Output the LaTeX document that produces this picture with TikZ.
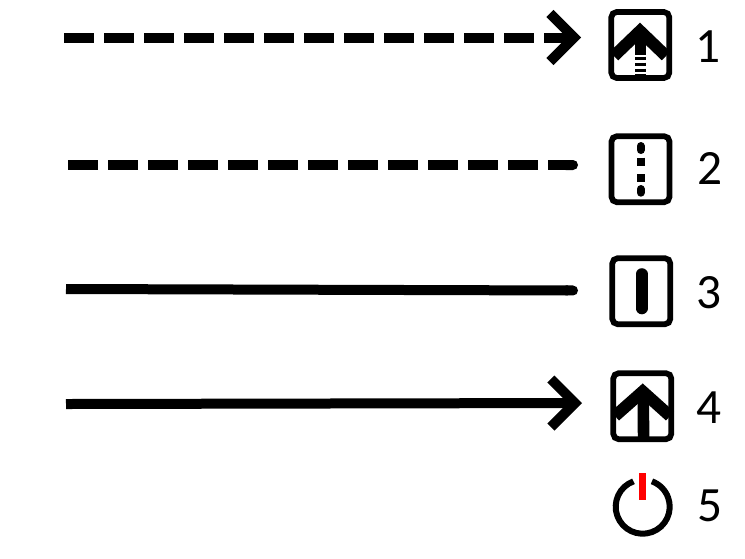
\documentclass[tikz,border=0pt]{standalone}
\usepackage{fontspec}
\setmainfont{Carlito}
\usetikzlibrary{arrows.meta}
\tikzstyle{iconbox} = [rectangle, draw, line width=4.3pt, rounded corners=4pt, inner sep=0pt, minimum width=43.5pt, minimum height=49.5pt]
\tikzstyle{numlabel} = [inner sep=0pt, font=\fontsize{37}{38}\selectfont]
\tikzstyle{line} = [draw, line width=7.5pt]
\tikzstyle{dashline} = [line, dash pattern=on 22.5pt off 7.5pt]
\tikzstyle{arrowtip} = [-{Straight Barb[length=18pt, width=36pt]}]
\tikzstyle{roundtip} = [-{Round Cap[]}]
\tikzstyle{chevron} = [draw, line width=9pt]
\tikzstyle{stem} = [draw, line width=8.7pt]
\tikzstyle{dotbar} = [draw, line width=6pt]
\begin{document}
\begin{tikzpicture}[x=0.75pt, y=-0.75pt, node distance = 51pt]
	\useasboundingbox (0,0) rectangle (745,558);
	% Nodes
	\node [iconbox] (iconA) at (640.3,45) {};
	\node [iconbox] (iconB) at (640.5,169.2) {};
	\node [iconbox] (iconC) at (641.3,291.2) {};
	\node [iconbox] (iconD) at (642.3,406.2) {};
	\node [numlabel, right of=iconA, yshift=-1.2pt] (numA) {1};
	\node [numlabel, right of=iconB, xshift=1pt, yshift=0.9pt] (numB) {2};
	\node [numlabel, right of=iconC, xshift=-0.4pt, yshift=-1.1pt] (numC) {3};
	\node [numlabel, right of=iconD, xshift=-0.8pt, yshift=-1.3pt] (numD) {4};
	\coordinate (power) at (642.7,506.7);
	\node [numlabel, right of=power, xshift=-0.4pt, yshift=0.7pt] (numE) {5};
	% Line ends
	\coordinate (startA) at (64,37.5);
	\coordinate (endA) at (581,37.5);
	\coordinate (startB) at (68,165);
	\coordinate (endB) at (578,165);
	\coordinate (startC) at (66,289);
	\coordinate (endC) at (578,290.5);
	\coordinate (startD) at (66,404);
	\coordinate (endD) at (582,403);
	% Lines
	\path [dashline, arrowtip] (startA) -- (endA);
	\path [dashline, roundtip] (startB) -- (endB);
	\path [line, roundtip] (startC) -- (endC);
	\path [line, arrowtip] (startD) -- (endD);
	% Icon 1
	\path [chevron] (614,56) -- (640,31) -- (666,56);
	\path [stem] (640.5,36) -- (640.5,54.5);
	\foreach \y in {56.7,62.7,68.7}
		\path [stem] (640.5,\y) -- (640.5,\y+3);
	\path [stem] (640.5,74) -- (640.5,78);
	% Icon 2
	\path [dotbar, line cap=round] (640.7,146) -- (640.7,150);
	\path [dotbar] (640.7,157.7) -- (640.7,165.7);
	\path [dotbar] (640.7,174) -- (640.7,182.3);
	\path [dotbar, line cap=round] (640.7,189) -- (640.7,192.7);
	% Icon 3
	\path [stem, line cap=round] (641.7,274) -- (641.7,308.5);
	% Icon 4
	\path [chevron] (615,416) -- (642.7,391.5) -- (670,416);
	\path [stem] (643.2,392) -- (643.6,440);
	% Icon 5
	\path [draw, line width=4.5pt] (power) ++(-110:27) arc (-110:-430:27);
	\path [draw=red, line width=5.2pt] (642.5,473) -- (642.5,500.3);
\end{tikzpicture}
\end{document}
